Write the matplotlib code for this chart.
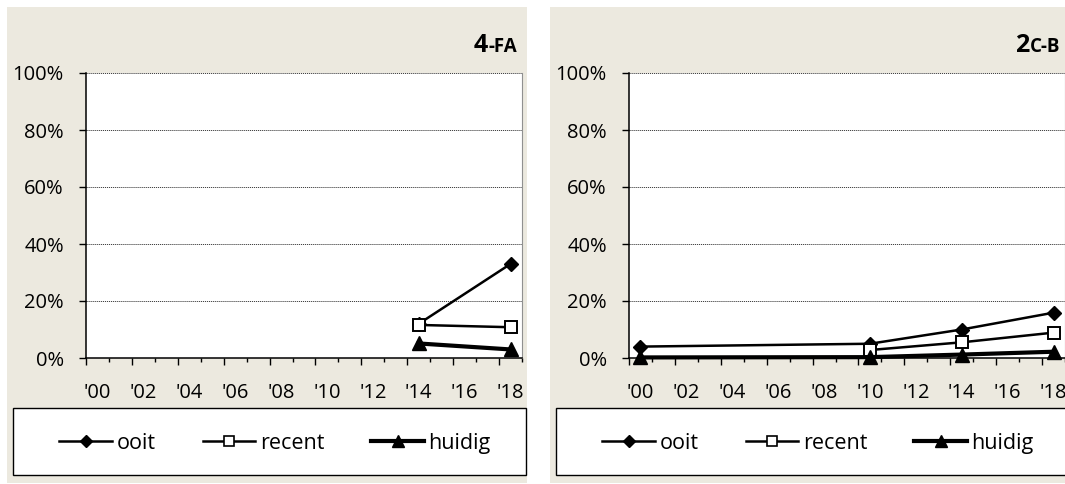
import matplotlib
matplotlib.use("Agg")
import matplotlib.pyplot as plt
from matplotlib.patches import Rectangle
from matplotlib.lines import Line2D
import matplotlib.transforms as mtransforms

plt.rcParams['font.family'] = ['Open Sans', 'DejaVu Sans']

# ---- data ----
years = list(range(2000, 2019))
tick_labels = ["'00", "'02", "'04", "'06", "'08", "'10", "'12", "'14", "'16", "'18"]
y_ticks = [0, 20, 40, 60, 80, 100]
series_names = ["ooit", "recent", "huidig"]

fa4_ooit_years = [2014, 2018]
fa4_ooit = [12.0, 33.0]
fa4_recent_years = [2014, 2018]
fa4_recent = [11.6, 10.8]
fa4_huidig_years = [2014, 2018]
fa4_huidig = [5.1, 3.0]

cb2_ooit_years = [2000, 2010, 2014, 2018]
cb2_ooit = [4.0, 5.0, 10.0, 15.9]
cb2_recent_years = [2010, 2014, 2018]
cb2_recent = [2.8, 5.5, 8.9]
cb2_huidig_years = [2000, 2010, 2014, 2018]
cb2_huidig = [0.2, 0.3, 1.2, 2.2]

titles = [("4", "-FA"), ("2", "C-B")]

W, H = 1065, 484
fig = plt.figure(figsize=(W / 100, H / 100), dpi=100)
fig.patch.set_facecolor("white")

BG = "#ECE9DF"


def fx(px):
    return px / W


def fy(py):
    return 1 - py / H


styles = {
    "ooit": dict(marker="D", ms=7.6, lw=1.8, mfc="black", mec="black"),
    "recent": dict(marker="s", ms=9.2, lw=1.8, mfc="white", mec="black", mew=1.4),
    "huidig": dict(marker="^", ms=10.5, lw=3.0, mfc="black", mec="black"),
}
legend_styles = {
    "ooit": dict(marker="D", ms=5.8, lw=1.8, mfc="black", mec="black"),
    "recent": dict(marker="s", ms=7.0, lw=1.8, mfc="white", mec="black", mew=1.2),
    "huidig": dict(marker="^", ms=8.5, lw=3.0, mfc="black", mec="black"),
}

panels = [
    dict(off=0, bg=(7, 527),
         series=[(fa4_ooit_years, fa4_ooit), (fa4_recent_years, fa4_recent),
                 (fa4_huidig_years, fa4_huidig)], title=titles[0]),
    dict(off=543, bg=(550, 1100),
         series=[(cb2_ooit_years, cb2_ooit), (cb2_recent_years, cb2_recent),
                 (cb2_huidig_years, cb2_huidig)], title=titles[1]),
]

FS = 14.5
LFS = 15.5

for p in panels:
    off = p["off"]
    # panel background
    x0, x1 = p["bg"]
    fig.patches.append(Rectangle((fx(x0), fy(483)), fx(x1 - x0), 476 / H,
                                 transform=fig.transFigure, facecolor=BG,
                                 edgecolor="none", zorder=-2))
    # plot area
    ax = fig.add_axes([fx(86 + off), fy(358), fx(436), 285 / H])
    ax.set_zorder(2)
    ax.set_facecolor("white")
    ax.set_xlim(-0.5, 18.5)
    ax.set_ylim(0, 100)

    for name, (yrs, vals) in zip(series_names, p["series"]):
        xs = [years.index(y) for y in yrs]
        ax.plot(xs, vals, color="black", clip_on=False, zorder=3, **styles[name])

    # grid
    ax.set_yticks(y_ticks)
    ax.set_yticklabels([f"{v}%" for v in y_ticks])
    ax.yaxis.grid(True, color="#404040", linestyle=(0, (1.2, 0.9)), linewidth=0.7)
    ax.set_axisbelow(True)
    ax.spines["top"].set_visible(False)
    ax.spines["right"].set_color("#909090")
    ax.spines["right"].set_linewidth(0.8)
    ax.spines["left"].set_linewidth(1.1)
    ax.spines["bottom"].set_linewidth(1.1)
    ax.tick_params(axis="y", length=5, width=1.0, pad=11, labelsize=FS, colors="black")

    # x ticks at category boundaries
    ax.set_xticks([i - 0.5 for i in range(0, 20, 2)])
    ax.set_xticks([i - 0.5 for i in range(1, 20, 2)], minor=True)
    ax.tick_params(axis="x", which="major", length=5, width=1.0, labelbottom=False)
    ax.tick_params(axis="x", which="minor", length=3, width=1.0, labelbottom=False)
    trans = mtransforms.blended_transform_factory(ax.transData, ax.transAxes)
    for i, lab in zip(range(0, 19, 2), tick_labels):
        ax.text(i, -40 / 285, lab, transform=trans, ha="center", va="baseline",
                fontsize=FS, clip_on=False)

    # title
    t1 = fig.text(fx(517 + off), fy(51.7), p["title"][1], ha="right", va="baseline",
                  fontsize=13.5, fontweight="bold")
    fig.canvas.draw()
    bb = t1.get_window_extent()
    fig.text(bb.x0 / W, fy(51.7), p["title"][0], ha="right", va="baseline",
             fontsize=18, fontweight="bold")

    # legend box
    lx0, lx1 = 12.7 + off, 525.7 + off
    fig.patches.append(Rectangle((fx(lx0), fy(475)), fx(lx1 - lx0), 67 / H,
                                 transform=fig.transFigure, facecolor="white",
                                 edgecolor="black", linewidth=1.0, zorder=1))
    handles = [Line2D([], [], color="black", **legend_styles[n]) for n in series_names]
    fig.legend(handles, series_names, loc="center",
               bbox_to_anchor=(fx(275 + off), fy(443.5)), ncol=3, frameon=False,
               fontsize=LFS, handlelength=2.45, handletextpad=0.2, columnspacing=2.2)

fig.savefig("out.png", dpi=100)
